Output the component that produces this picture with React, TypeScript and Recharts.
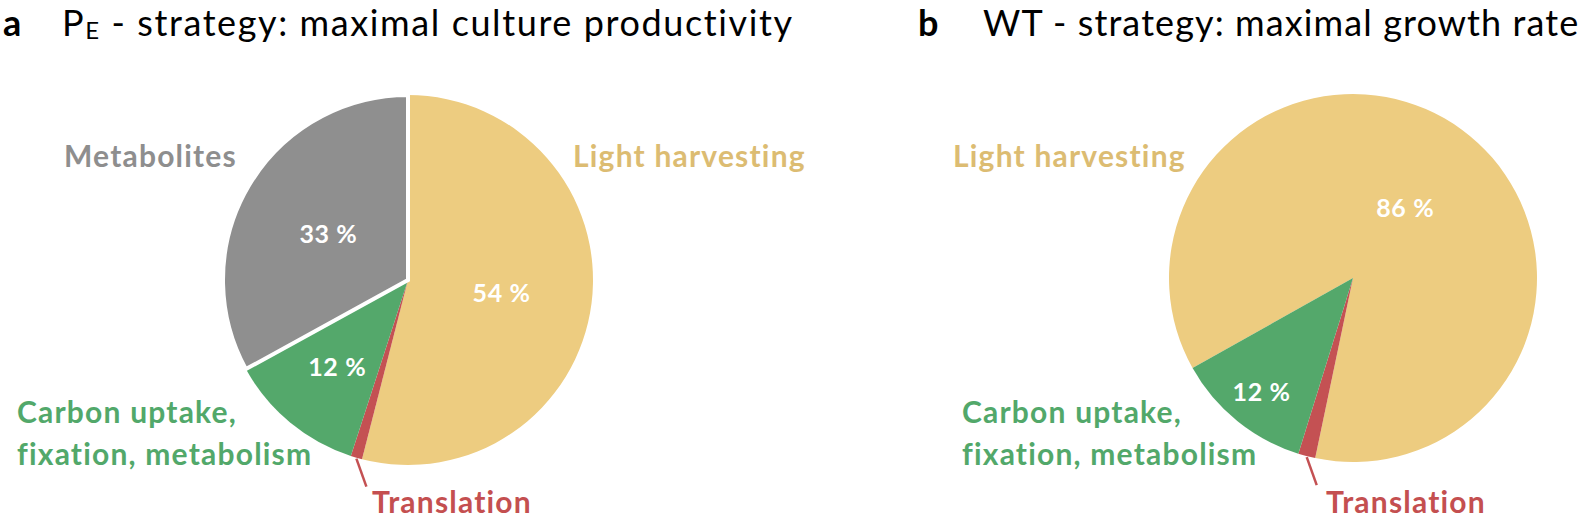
import React from "react";
import { PieChart, Pie, Cell } from "recharts";

// ---- data ----
const namesA = ["Light harvesting", "Translation", "Carbon uptake, fixation, metabolism", "Metabolites"];
const valuesA = [54, 1, 12, 33];
const namesB = ["Light harvesting", "Translation", "Carbon uptake, fixation, metabolism"];
const valuesB = [86, 1.5, 12];
const titleA = { letter: "a", main: "P", sub: "E", rest: " - strategy: maximal culture productivity" };
const titleB = { letter: "b", main: "WT - strategy: maximal growth rate" };

// ---- styles ----
const FILL: Record<string, string> = {
  "Light harvesting": "#EDCC80",
  "Translation": "#C45153",
  "Carbon uptake, fixation, metabolism": "#54A86B",
  "Metabolites": "#8F8F8F",
};
const TEXT: Record<string, string> = {
  "Light harvesting": "#DCBC72",
  "Translation": "#C44F50",
  "Carbon uptake, fixation, metabolism": "#52A86A",
  "Metabolites": "#8E8E8E",
};
const FONT = "Lato, 'Noto Sans', sans-serif";
const RAD = Math.PI / 180;

const dataA = namesA.map((name, i) => ({ name, value: valuesA[i] }));
const dataB = namesB.map((name, i) => ({ name, value: valuesB[i] }));

// label radius fraction per slice (0 = no inner label)
const innerFracA: Record<string, number> = { "Light harvesting": 0.51, "Metabolites": 0.5, "Carbon uptake, fixation, metabolism": 0.6 };
const innerFracB: Record<string, number> = { "Light harvesting": 0.48, "Carbon uptake, fixation, metabolism": 0.79 };

const makeLabel = (fracs: Record<string, number>) => (props: any) => {
  const { cx, cy, midAngle, outerRadius, name, value } = props;
  if (name === "Translation") {
    const x1 = cx + outerRadius * Math.cos(-midAngle * RAD);
    const y1 = cy + outerRadius * Math.sin(-midAngle * RAD);
    return (
      <line x1={x1} y1={y1 + 1} x2={x1 + 10} y2={y1 + 29} stroke={FILL.Translation} strokeWidth={2.5} />
    );
  }
  const f = fracs[name];
  if (!f) return null;
  const r = outerRadius * f;
  const x = cx + r * Math.cos(-midAngle * RAD);
  const y = cy + r * Math.sin(-midAngle * RAD);
  return (
    <text x={x} y={y} fill="#fff" fontFamily={FONT} fontWeight={700} fontSize={25} letterSpacing={0.6} textAnchor="middle" dominantBaseline="central">
      {`${Math.round(value)} %`}
    </text>
  );
};

const Name = ({ x, y, name, children }: any) => (
  <text x={x} y={y} fill={TEXT[name]} fontFamily={FONT} fontWeight={700} fontSize={30} letterSpacing={1.2}>
    {children ?? name}
  </text>
);

export default function App() {
  return (
    <div style={{ position: "absolute", left: 0, top: 0, width: 1594, height: 520, background: "#fff", overflow: "hidden" }}>
      <PieChart width={1594} height={520} margin={{ top: 0, right: 0, bottom: 0, left: 0 }}>
        <Pie
          data={dataA}
          dataKey="value"
          nameKey="name"
          cx={408}
          cy={280}
          outerRadius={185}
          startAngle={90}
          endAngle={-270}
          isAnimationActive={false}
          label={makeLabel(innerFracA)}
          labelLine={false}
        >
          {dataA.map((d) => (
            <Cell
              key={d.name}
              fill={FILL[d.name]}
              stroke={d.name === "Metabolites" ? "#fff" : "none"}
              strokeWidth={d.name === "Metabolites" ? 4 : 0}
            />
          ))}
        </Pie>
        <Pie
          data={dataB}
          dataKey="value"
          nameKey="name"
          cx={1353}
          cy={278}
          outerRadius={184}
          startAngle={-150.7}
          endAngle={-510.7}
          isAnimationActive={false}
          label={makeLabel(innerFracB)}
          labelLine={false}
        >
          {dataB.map((d) => (
            <Cell key={d.name} fill={FILL[d.name]} stroke="none" />
          ))}
        </Pie>
      </PieChart>
      <svg width={1594} height={520} style={{ position: "absolute", left: 0, top: 0, pointerEvents: "none" }}>
        {/* titles */}
        <text x={3} y={36} fontFamily={FONT} fontWeight={700} fontSize={36} fill="#000">{titleA.letter}</text>
        <text x={62} y={36} fontFamily={FONT} fontWeight={400} fontSize={36} letterSpacing={1.6} fill="#000">
          {titleA.main}
          <tspan fontSize={24} dy={3}>{titleA.sub}</tspan>
          <tspan dy={-3}>{titleA.rest}</tspan>
        </text>
        <text x={918} y={36} fontFamily={FONT} fontWeight={700} fontSize={36} fill="#000">{titleB.letter}</text>
        <text x={983} y={36} fontFamily={FONT} fontWeight={400} fontSize={36} letterSpacing={1.1} fill="#000">{titleB.main}</text>

        {/* pie a names */}
        <Name x={64} y={167} name="Metabolites" />
        <Name x={573} y={167} name="Light harvesting" />
        <Name x={17} y={423} name="Carbon uptake, fixation, metabolism">Carbon uptake,</Name>
        <Name x={17} y={465} name="Carbon uptake, fixation, metabolism">fixation, metabolism</Name>
        <Name x={372} y={513} name="Translation" />

        {/* pie b names */}
        <Name x={953} y={167} name="Light harvesting" />
        <Name x={962} y={423} name="Carbon uptake, fixation, metabolism">Carbon uptake,</Name>
        <Name x={962} y={465} name="Carbon uptake, fixation, metabolism">fixation, metabolism</Name>
        <Name x={1326} y={513} name="Translation" />
      </svg>
    </div>
  );
}
